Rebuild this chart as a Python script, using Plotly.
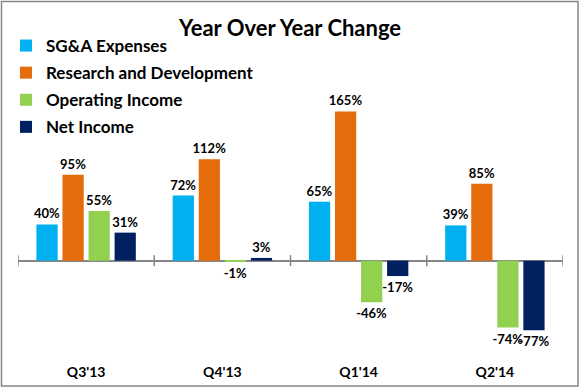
import plotly.graph_objects as go

quarters = ["Q3'13", "Q4'13", "Q1'14", "Q2'14"]
sga = [40, 72, 65, 39]
rnd = [95, 112, 165, 85]
op_income = [55, -1, -46, -74]
net_income = [31, 3, -17, -77]

series = [
    ("SG&A Expenses", sga, "#00B0F0"),
    ("Research and Development", rnd, "#E46C0A"),
    ("Operating Income", op_income, "#92D050"),
    ("Net Income", net_income, "#002060"),
]

FONT = "Lato"
W, H = 580, 388
ML, MR, MT, MB = 18, 17, 20, 26
pw = W - ML - MR
ph = H - MT - MB

fig = go.Figure()
for i, (name, vals, color) in enumerate(series):
    fig.add_trace(go.Bar(
        x=quarters, y=vals, name=name, marker_color=color,
        marker_line_width=0,
        texttemplate="%{y:.0f}%", textposition="outside",
        textfont=dict(family=FONT, size=13, color="#000000", weight="bold"),
        constraintext="none", cliponaxis=False,
        legendgroup=f"g{i}",
    ))

shapes = []
# category boundary tick marks crossing the zero line
for k in range(len(quarters) + 1):
    shapes.append(dict(
        type="line", xref="x", yref="y", x0=k - 0.5, x1=k - 0.5,
        ysizemode="pixel", yanchor=0, y0=-5.5, y1=5.5,
        line=dict(color="#868686", width=1.5),
    ))
# chart border
shapes.append(dict(
    type="rect", xref="paper", yref="paper",
    x0=(1.5 - ML) / pw, x1=(578 - ML) / pw,
    y0=(MT + ph - 386) / ph, y1=(MT + ph - 1.5) / ph,
    line=dict(color="#868686", width=1.5), fillcolor="rgba(0,0,0,0)",
    layer="above",
))

fig.update_layout(
    width=W, height=H,
    margin=dict(l=ML, r=MR, t=MT, b=MB, pad=0, autoexpand=False),
    paper_bgcolor="white", plot_bgcolor="white",
    barmode="group", bargap=0.235, bargroupgap=0.185,
    title=dict(text="<b>Year Over Year Change</b>", x=0.5, xref="container",
               y=1 - 28 / H, yref="container", yanchor="middle",
               font=dict(family=FONT, size=22, color="#000000")),
    font=dict(family=FONT, color="#000000"),
    showlegend=True,
    legend=dict(
        x=(6 - ML) / pw, xanchor="left",
        y=(MT + ph - 28) / ph, yanchor="top",
        bgcolor="rgba(0,0,0,0)",
        font=dict(family=FONT, size=17, color="#000000", weight="bold"),
        tracegroupgap=2,
        itemsizing="constant",
    ),
    xaxis=dict(
        type="category", range=[-0.5, len(quarters) - 0.5],
        showline=False, showgrid=False, ticks="", automargin=False,
        tickfont=dict(family=FONT, size=14, color="#000000", weight="bold"),
    ),
    yaxis=dict(
        range=[-112, 266], showgrid=False, showticklabels=False,
        zeroline=True, zerolinecolor="#868686", zerolinewidth=1.5,
        showline=False, ticks="", automargin=False,
    ),
    shapes=shapes,
)

fig.write_html("out.html", config={"displayModeBar": False},
               post_script="document.body.style.margin='0px';")
